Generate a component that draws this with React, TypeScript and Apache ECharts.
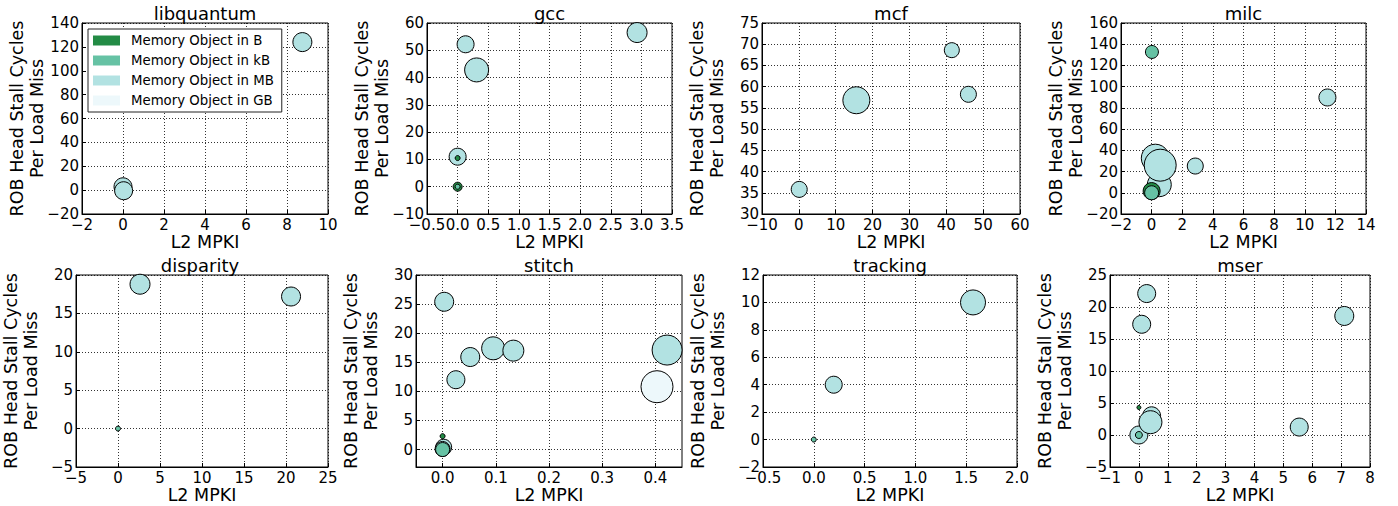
import React, { useEffect, useRef } from "react";
import * as echarts from "echarts";

const categories = ["Memory Object in B", "Memory Object in kB", "Memory Object in MB", "Memory Object in GB"];
const categoryColors = ["#238b45", "#66c2a4", "#b2e2e2", "#edf8fb"];
const benchmarks = ["libquantum", "gcc", "mcf", "milc", "disparity", "stitch", "tracking", "mser"];

// each point: [L2 MPKI, ROB head stall cycles per load miss, bubble size]
const libquantumMB = [[8.75, 124, 19], [0, 2.8, 18], [0.03, -0.5, 18]];

const gccB = [[0, 0, 9], [0, 10.5, 5]];
const gccKB = [[0, 0, 5]];
const gccMB = [[0.31, 42.8, 24], [2.93, 56.5, 20], [0.13, 52.2, 17], [0, 11, 17]];

const mcfMB = [[15.6, 56.8, 27], [46, 58.2, 16], [0.1, 35.8, 16], [41.5, 68.6, 15]];

const milcB = [[0, 1.6, 17]];
const milcKB = [[0.02, 132.7, 13], [0, 0, 14]];
const milcMB = [[0.24, 32.6, 28], [0.5, 7.6, 24], [0.56, 26, 32], [11.48, 89.8, 17], [2.85, 25.2, 16]];

const disparityKB = [[0, 0, 5]];
const disparityMB = [[2.62, 18.8, 20], [20.6, 17.2, 19]];

const stitchB = [[0, 2.3, 5]];
const stitchKB = [[0, 0, 14]];
const stitchMB = [[0.422, 17.1, 30], [0.095, 17.4, 23], [0.133, 17, 21], [0.003, 25.4, 19], [0.052, 15.9, 19], [0.025, 12, 18], [0.002, 0.4, 16], [0, 0.1, 15]];
const stitchGB = [[0.403, 10.8, 32]];

const trackingKB = [[0, 0, 5]];
const trackingMB = [[1.567, 10, 25], [0.196, 4, 17]];

const mserB = [[0, 4.3, 4]];
const mserKB = [[0, 0, 7]];
const mserMB = [[0.27, 22.1, 18], [0.097, 17.3, 18], [7.11, 18.6, 19], [5.55, 1.24, 18], [0, 0, 18], [0.44, 3.0, 18], [0.4, 2.0, 23]];

// per benchmark, per category (B, kB, MB, GB)
const panelData = [
  [[], [], libquantumMB, []],
  [gccB, gccKB, gccMB, []],
  [[], [], mcfMB, []],
  [milcB, milcKB, milcMB, []],
  [[], disparityKB, disparityMB, []],
  [stitchB, stitchKB, stitchMB, stitchGB],
  [[], trackingKB, trackingMB, []],
  [mserB, mserKB, mserMB, []],
];

// axis ranges and tick labels
const xRanges = [[-2, 10], [-0.5, 3.5], [-10, 60], [-2, 14], [-5, 25], [-0.05, 0.45], [-0.5, 2], [-1, 8]];
const yRanges = [[-20, 140], [-10, 60], [30, 75], [-20, 160], [-5, 20], [-3, 30], [-2, 12], [-5, 25]];
const xTicks = [
  [-2, 0, 2, 4, 6, 8, 10],
  [-0.5, 0, 0.5, 1, 1.5, 2, 2.5, 3, 3.5],
  [-10, 0, 10, 20, 30, 40, 50, 60],
  [-2, 0, 2, 4, 6, 8, 10, 12, 14],
  [-5, 0, 5, 10, 15, 20, 25],
  [0, 0.1, 0.2, 0.3, 0.4],
  [-0.5, 0, 0.5, 1, 1.5, 2],
  [-1, 0, 1, 2, 3, 4, 5, 6, 7, 8],
];
const yTicks = [
  [-20, 0, 20, 40, 60, 80, 100, 120, 140],
  [-10, 0, 10, 20, 30, 40, 50, 60],
  [30, 35, 40, 45, 50, 55, 60, 65, 70, 75],
  [-20, 0, 20, 40, 60, 80, 100, 120, 140, 160],
  [-5, 0, 5, 10, 15, 20],
  [0, 5, 10, 15, 20, 25, 30],
  [-2, 0, 2, 4, 6, 8, 10, 12],
  [-5, 0, 5, 10, 15, 20, 25],
];
const xDecimals = [0, 1, 0, 0, 0, 1, 1, 0];
const xAxisTitle = "L2 MPKI";
const yAxisTitle = "ROB Head Stall Cycles\nPer Load Miss";

// layout (px): left, top, width, height of each plot area
const boxes = [
  [82, 23, 246, 191],
  [427, 23, 245, 191],
  [762, 23, 258, 191],
  [1121, 23, 245, 191],
  [72, 275, 256, 192],
  [416, 275, 266, 192],
  [763, 275, 254, 192],
  [1110, 275, 260, 192],
];

const FONT = "DejaVu Sans";

function fmt(v: number, d: number) {
  return v.toFixed(d).replace("-", "\u2212");
}

function buildOption() {
  const grid: any[] = [];
  const xAxis: any[] = [];
  const yAxis: any[] = [];
  const series: any[] = [];
  const graphic: any[] = [];
  const drawOrder = [3, 2, 0, 1];

  benchmarks.forEach((name, i) => {
    const [l, t, w, h] = boxes[i];
    grid.push({ left: l, top: t, width: w, height: h, show: true, borderColor: "#000", borderWidth: 1, backgroundColor: "transparent" });
    const dec = xDecimals[i];
    xAxis.push({
      type: "value",
      gridIndex: i,
      min: xRanges[i][0],
      max: xRanges[i][1],
      name: xAxisTitle,
      nameLocation: "middle",
      nameGap: 19,
      nameMoveOverlap: false,
      nameTextStyle: { fontSize: 17.5, color: "#000", fontFamily: FONT },
      axisLine: { show: true, onZero: false, lineStyle: { color: "#000", width: 1 } },
      axisTick: { show: true, inside: true, length: 4, customValues: xTicks[i], lineStyle: { color: "#000" } },
      axisLabel: {
        show: true,
        margin: 3,
        customValues: xTicks[i],
        hideOverlap: false,
        showMinLabel: true,
        showMaxLabel: true,
        fontSize: 15,
        color: "#000",
        fontFamily: FONT,
        formatter: (v: number) => fmt(v, dec),
      },
      splitLine: { show: true, lineStyle: { color: "#000", type: [1, 2], width: 1, opacity: 0.8 } },
    });
    yAxis.push({
      type: "value",
      gridIndex: i,
      min: yRanges[i][0],
      max: yRanges[i][1],
      name: yAxisTitle,
      nameLocation: "middle",
      nameGap: 35,
      nameMoveOverlap: false,
      nameTextStyle: { fontSize: 17.5, lineHeight: 20, color: "#000", fontFamily: FONT, align: "center" },
      axisLine: { show: true, onZero: false, lineStyle: { color: "#000", width: 1 } },
      axisTick: { show: true, inside: true, length: 4, customValues: yTicks[i], lineStyle: { color: "#000" } },
      axisLabel: {
        show: true,
        margin: 3,
        customValues: yTicks[i],
        hideOverlap: false,
        showMinLabel: true,
        showMaxLabel: true,
        fontSize: 15,
        color: "#000",
        fontFamily: FONT,
        formatter: (v: number) => fmt(v, 0),
      },
      splitLine: { show: true, lineStyle: { color: "#000", type: [1, 2], width: 1, opacity: 0.8 } },
    });
    graphic.push({
      type: "text",
      x: l + w / 2,
      y: t - 10,
      style: { text: name, fontSize: 18, fontFamily: FONT, fill: "#000", align: "center", verticalAlign: "middle" },
    });
    drawOrder.forEach((c) => {
      series.push({
        type: "scatter",
        name: categories[c],
        xAxisIndex: i,
        yAxisIndex: i,
        data: panelData[i][c],
        symbol: "circle",
        symbolSize: (val: number[]) => val[2],
        itemStyle: { color: categoryColors[c], borderColor: "#000", borderWidth: 1, opacity: 1 },
        emphasis: { disabled: true },
        silent: true,
        z: 3,
      });
    });
  });

  return {
    animation: false,
    backgroundColor: "#fff",
    textStyle: { fontFamily: FONT },
    grid,
    xAxis,
    yAxis,
    series,
    graphic,
    legend: {
      show: true,
      orient: "vertical",
      left: 88,
      top: 29,
      padding: [4, 8, 4, 5],
      itemGap: 5,
      itemWidth: 27,
      itemHeight: 10,
      icon: "rect",
      backgroundColor: "#fff",
      borderColor: "#222",
      borderWidth: 1,
      borderRadius: 0,
      selectedMode: false,
      itemStyle: { borderWidth: 0 },
      textStyle: { fontSize: 13.3, lineHeight: 15, color: "#000", fontFamily: FONT, padding: [0, 0, 0, 6] },
      data: categories.map((c, k) => ({ name: c, itemStyle: { color: categoryColors[k], borderWidth: 0 } })),
      z: 10,
    },
  };
}

export default function App() {
  const ref = useRef<HTMLDivElement>(null);
  useEffect(() => {
    document.body.style.margin = "0";
    const chart = echarts.init(ref.current!, null, { renderer: "svg" });
    chart.setOption(buildOption() as any);
    return () => chart.dispose();
  }, []);
  return <div ref={ref} style={{ width: 1398, height: 506 }} />;
}
